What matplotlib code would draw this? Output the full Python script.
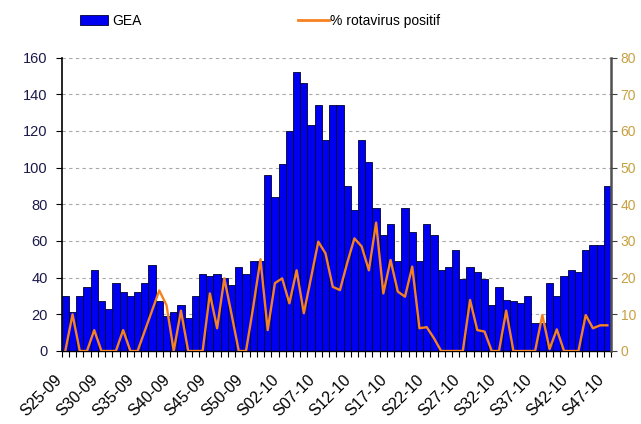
import numpy as np
import matplotlib
matplotlib.use('Agg')
import matplotlib.pyplot as plt
from matplotlib.patches import Patch
from matplotlib.lines import Line2D

plt.rcParams['font.family'] = ['Liberation Sans', 'DejaVu Sans']

# Weekly GEA counts, S25-09 .. S47-10 (2009 has 53 weeks)
gea = [30, 21, 30, 35, 44, 27, 23, 37, 32, 30,
       32, 37, 47, 27, 19, 21, 25, 18, 30, 42,
       41, 42, 40, 36, 46, 42, 49, 49, 96, 84,
       102, 120, 152, 146, 123, 134, 115, 134, 134, 90,
       77, 115, 103, 78, 63, 69, 49, 78, 65, 49,
       69, 63, 44, 46, 55, 39, 46, 43, 39, 25,
       35, 28, 27, 26, 30, 15, 15, 37, 30, 41,
       44, 43, 55, 58, 58, 90]

# % rotavirus positive (right axis)
rota = [0, 10, 0, 0, 5.7, 0, 0, 0, 5.7, 0,
        0, 5.5, 11, 16.5, 12.5, 0, 11, 0, 0, 0,
        15.7, 6.2, 19.8, 10, 0, 0, 12, 25, 5.7, 18.5,
        19.8, 13, 22, 10.3, 20, 29.8, 26.6, 17.5, 16.6, 24,
        30.7, 28.5, 22, 35, 15.7, 24.8, 16.2, 14.8, 23, 6.2,
        6.5, 3.5, 0, 0, 0, 0, 13.9, 5.7, 5.3, 0,
        0, 11, 0, 0, 0, 0, 9.8, 0.5, 5.9, 0,
        0, 0, 9.8, 6.2, 7, 7]

tick_labels = ['S25-09', 'S30-09', 'S35-09', 'S40-09', 'S45-09', 'S50-09',
               'S02-10', 'S07-10', 'S12-10', 'S17-10', 'S22-10', 'S27-10',
               'S32-10', 'S37-10', 'S42-10', 'S47-10']

bar_color = '#0000F0'
line_color = '#F58220'

fig = plt.figure(figsize=(6.41, 4.24), dpi=100)
W, H = 641, 424
ax = fig.add_axes([61.7 / W, 1 - 351 / H, (611 - 61.7) / W, (351 - 57.5) / H])

x = np.arange(len(gea))
ax.bar(x, gea, width=1.0, color=bar_color, edgecolor='#000033', linewidth=0.6, zorder=2)
ax.set_xlim(-0.5, len(gea) - 0.5)
ax.set_ylim(0, 160)
ax.set_yticks(range(0, 161, 20))
ax.yaxis.grid(True, linestyle=(0, (3, 3)), color='#A8A8A8', linewidth=0.8)
ax.set_axisbelow(True)

# category labels every 5 weeks, drawn as rotated text anchored near each tick
ax.set_xticks([])
label_pos = x[::5]
for pos, lab in zip(label_pos, tick_labels):
    ax.annotate(lab, xy=(pos, 0), xycoords=('data', 'axes fraction'),
                xytext=(-11 * 0.72, -21 * 0.72), textcoords='offset points',
                rotation=45, ha='right', va='top', rotation_mode='anchor',
                fontsize=11.5, color='black', annotation_clip=False)
ax.set_xticks(np.arange(-0.5, len(gea), 1), minor=True)
ax.tick_params(axis='x', which='minor', length=4, width=0.8, color='black', direction='out')
ax.tick_params(axis='y', length=4, width=0.8, color='black', direction='out',
               labelsize=10.5, labelcolor='#1A1A4A', pad=6)

for s in ['top', 'right']:
    ax.spines[s].set_visible(False)
ax.spines['left'].set_linewidth(1.2)
ax.spines['bottom'].set_linewidth(1.0)

ax2 = ax.twinx()
ax2.plot(x, rota, color=line_color, linewidth=1.7, zorder=3)
ax2.set_ylim(0, 80)
ax2.set_yticks(range(0, 81, 10))
ax2.tick_params(axis='y', length=4, width=0.8, color='#404040', direction='out',
                labelsize=10, labelcolor='#C8A040', pad=3)
for s in ['top', 'left', 'bottom']:
    ax2.spines[s].set_visible(False)
ax2.spines['right'].set_color('#505050')
ax2.spines['right'].set_linewidth(1.8)

h1 = Patch(facecolor=bar_color, edgecolor='#000033', linewidth=0.6)
h2 = Line2D([], [], color=line_color, linewidth=2)
fig.legend([h1], ['GEA'], loc='center left', bbox_to_anchor=(80 / W, 1 - 21 / H),
           frameon=False, fontsize=10, handlelength=2.0, handleheight=0.7,
           handletextpad=0.35, borderpad=0, borderaxespad=0)
fig.legend([h2], ['% rotavirus positif'], loc='center left',
           bbox_to_anchor=(298 / W, 1 - 21 / H), frameon=False, fontsize=10,
           handlelength=2.2, handletextpad=0.1, borderpad=0, borderaxespad=0)

fig.savefig('out.png', dpi=100)
